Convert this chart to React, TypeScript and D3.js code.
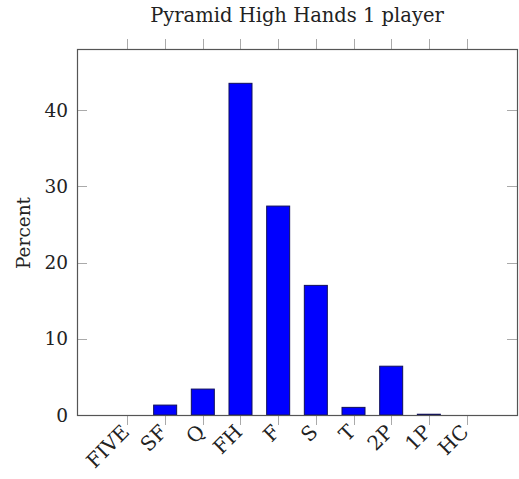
import React, { useEffect, useRef } from "react";
import * as d3 from "d3";

const hands = ["FIVE", "SF", "Q", "FH", "F", "S", "T", "2P", "1P", "HC"];
const percents = [0, 1.3, 3.4, 43.5, 27.4, 17.0, 1.0, 6.4, 0.1, 0];
const yTicks = [0, 10, 20, 30, 40];

const App: React.FC = () => {
  const svgRef = useRef<SVGSVGElement | null>(null);

  useEffect(() => {
    const width = 519;
    const height = 479;
    const left = 77;
    const right = 517;
    const top = 49;
    const bottom = 415;
    const font = "'DejaVu Serif', 'Liberation Serif', serif";

    const svg = d3.select(svgRef.current);
    svg.selectAll("*").remove();
    svg.attr("width", width).attr("height", height);

    const x = d3.scalePoint<string>().domain(hands).range([left, right]).padding(1.34);
    const y = d3.scaleLinear().domain([0, 48]).range([bottom, top]);

    // ticks on x, outside the box top and bottom
    const xt = svg.append("g").attr("stroke", "#aaa").attr("stroke-width", 1);
    hands.forEach((h) => {
      const px = Math.round(x(h)!) + 0.5;
      xt.append("line").attr("x1", px).attr("x2", px).attr("y1", top).attr("y2", top - 10);
      xt.append("line").attr("x1", px).attr("x2", px).attr("y1", bottom).attr("y2", bottom + 10);
    });

    // y ticks inside both sides
    const yt = svg.append("g").attr("stroke", "#aaa").attr("stroke-width", 1);
    yTicks.forEach((t) => {
      const py = Math.round(y(t)) + 0.5;
      yt.append("line").attr("x1", left).attr("x2", left + 10).attr("y1", py).attr("y2", py);
      yt.append("line").attr("x1", right).attr("x2", right - 10).attr("y1", py).attr("y2", py);
    });

    // bars
    const barW = 23;
    svg
      .append("g")
      .selectAll("rect")
      .data(percents)
      .enter()
      .append("rect")
      .attr("x", (d, i) => x(hands[i])! - barW / 2)
      .attr("y", (d) => y(d))
      .attr("width", barW)
      .attr("height", (d) => bottom - y(d))
      .attr("fill", (d) => (d > 0 ? "#0000ff" : "none"))
      .attr("stroke", (d) => (d > 0 ? "#10105a" : "none"))
      .attr("stroke-width", 1);

    // frame
    svg
      .append("rect")
      .attr("x", left + 0.5)
      .attr("y", top + 0.5)
      .attr("width", right - left)
      .attr("height", bottom - top)
      .attr("fill", "none")
      .attr("stroke", "#555")
      .attr("stroke-width", 1.2);

    // y tick labels
    svg
      .append("g")
      .selectAll("text")
      .data(yTicks)
      .enter()
      .append("text")
      .attr("x", left - 9)
      .attr("y", (d) => y(d))
      .attr("dy", "0.36em")
      .attr("text-anchor", "end")
      .attr("font-family", font)
      .attr("font-size", 18.5)
      .attr("fill", "#222")
      .text((d) => d);

    // x tick labels, rotated
    svg
      .append("g")
      .selectAll("text")
      .data(hands)
      .enter()
      .append("text")
      .attr("transform", (d) => `translate(${x(d)! - 7},${bottom + 8}) rotate(-45)`)
      .attr("text-anchor", "end")
      .attr("dy", "0.72em")
      .attr("font-family", font)
      .attr("font-size", 20)
      .attr("fill", "#222")
      .text((d) => d);

    // y axis title
    svg
      .append("text")
      .attr("transform", `translate(30,233) rotate(-90)`)
      .attr("text-anchor", "middle")
      .attr("font-family", font)
      .attr("font-size", 18.5)
      .attr("fill", "#222")
      .text("Percent");

    // title
    svg
      .append("text")
      .attr("x", 297)
      .attr("y", 22)
      .attr("text-anchor", "middle")
      .attr("font-family", font)
      .attr("font-size", 19.5)
      .attr("fill", "#222")
      .text("Pyramid High Hands 1 player");
  }, []);

  return <svg ref={svgRef} style={{ position: "absolute", left: 0, top: 0 }} />;
};

export default App;
